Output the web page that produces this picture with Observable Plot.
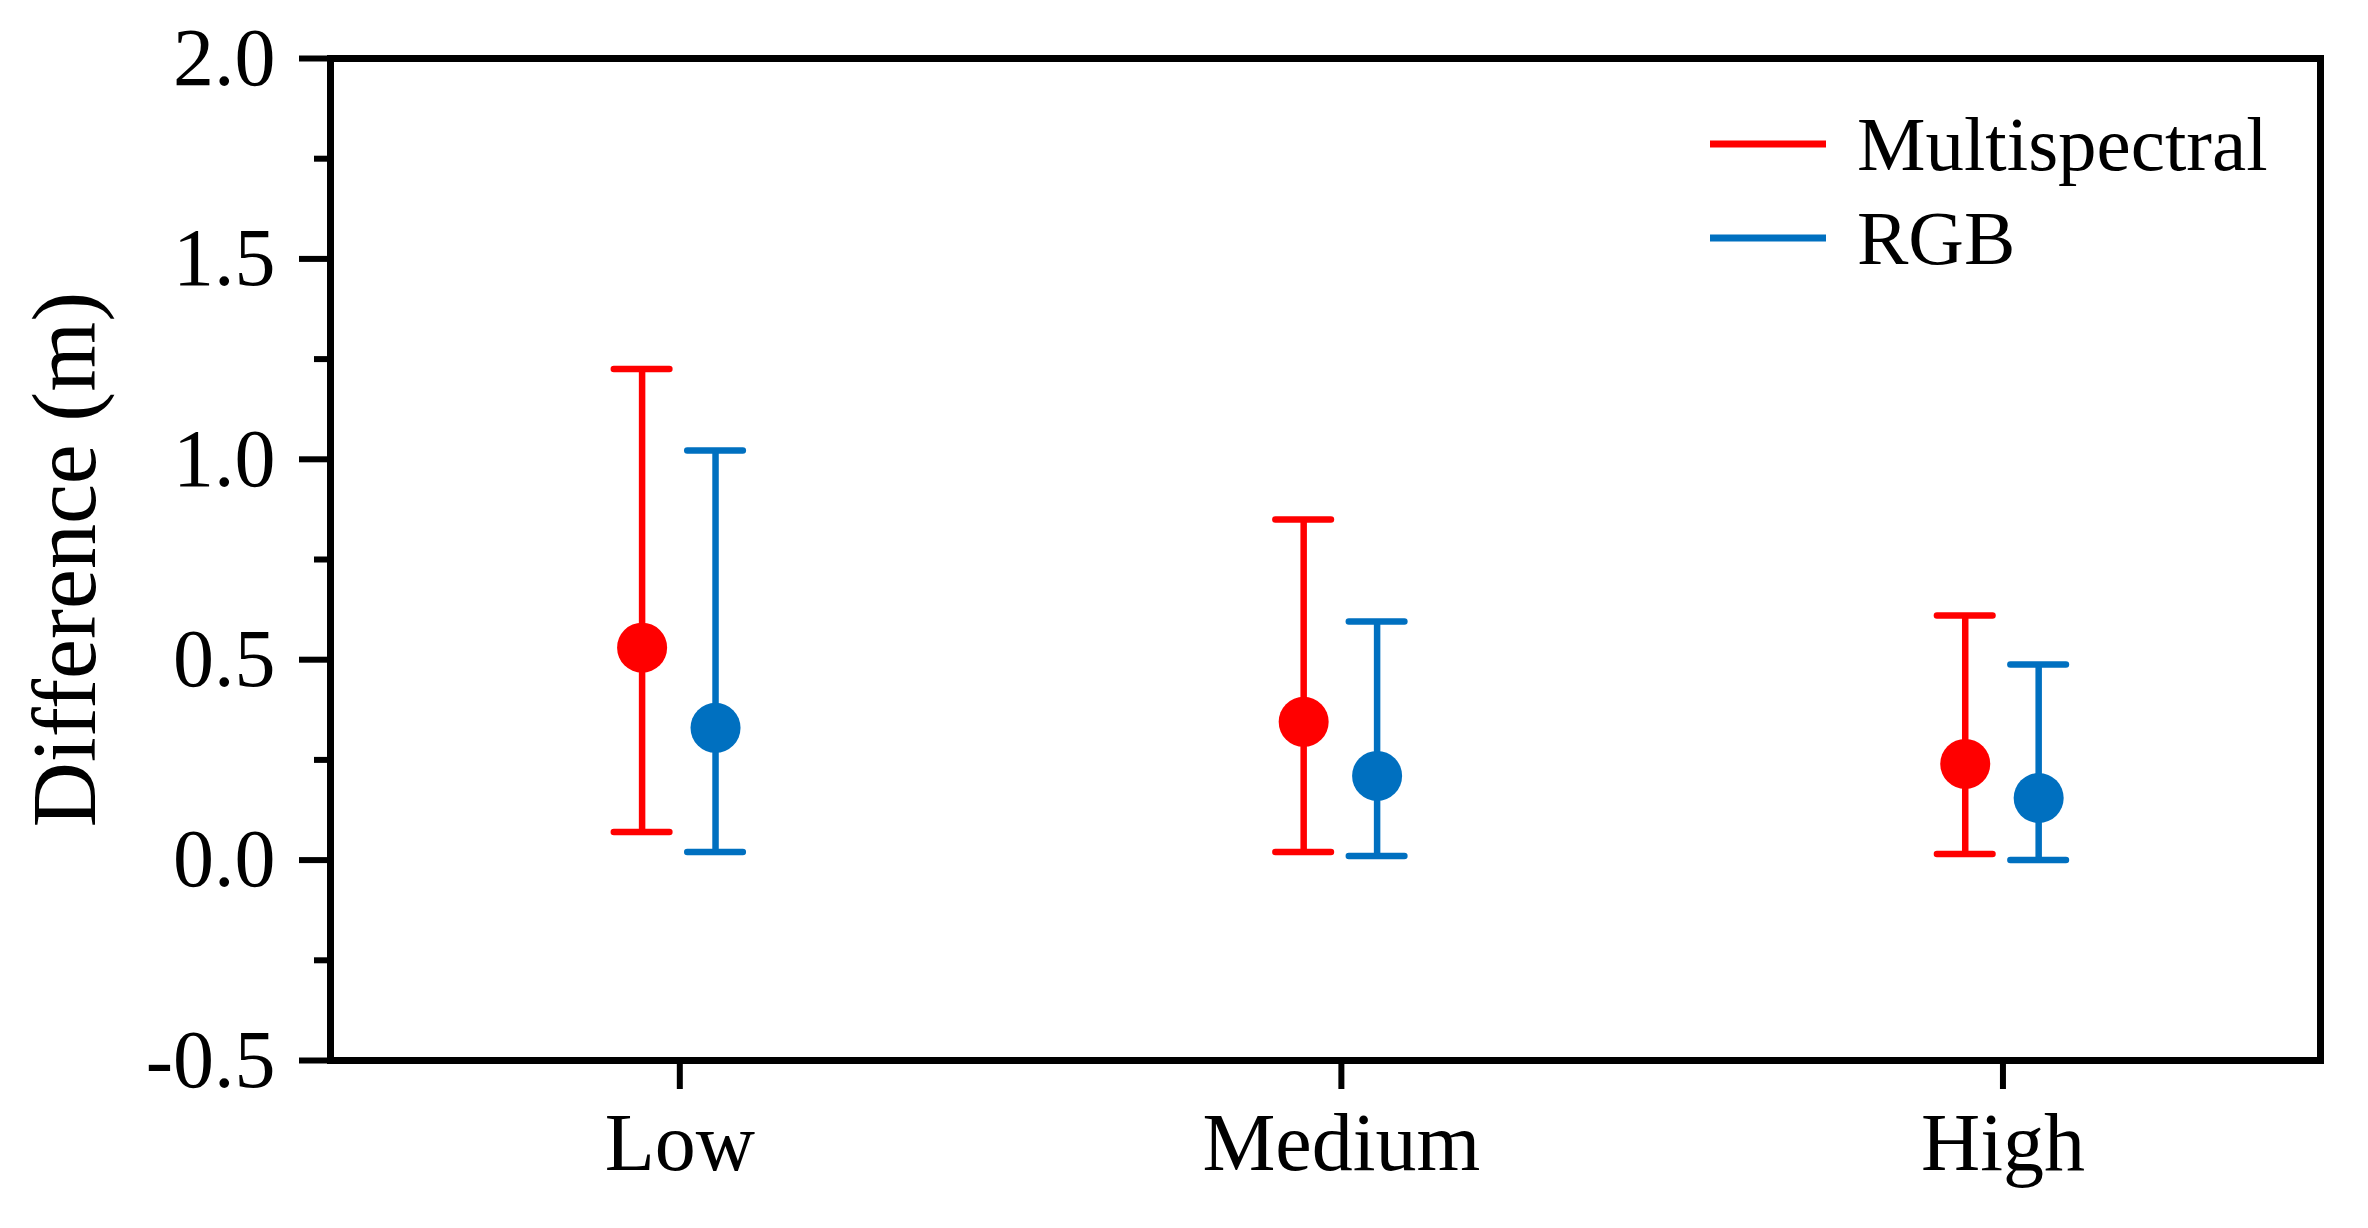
<!DOCTYPE html>
<html>
<head>
<meta charset="utf-8">
<script src="https://cdn.jsdelivr.net/npm/d3@7"></script>
<script src="https://cdn.jsdelivr.net/npm/@observablehq/plot@0.6"></script>
<style>
  html, body { margin: 0; padding: 0; background: #fff; }
  #chart { width: 2368px; height: 1228px; }
</style>
</head>
<body>
<div id="chart"></div>
<script>
// ---- data ----
const categories = ["Low", "Medium", "High"];
const series = ["Multispectral", "RGB"];
const colors = ["#ff0000", "#0070c0"];
const multiMean  = [0.530, 0.345, 0.240];
const multiUpper = [1.225, 0.850, 0.610];
const multiLower = [0.070, 0.020, 0.015];
const rgbMean    = [0.330, 0.210, 0.155];
const rgbUpper   = [1.022, 0.595, 0.488];
const rgbLower   = [0.020, 0.010, 0.000];
const yMajorTicks = [-0.5, 0.0, 0.5, 1.0, 1.5, 2.0];
const yMinorTicks = [-0.25, 0.25, 0.75, 1.25, 1.75];
const yLabel = "Difference (m)";

// dodge offsets (category units) for the two series
const dodge = [-0.057, 0.054];
const capHalf = 0.042;

const rows = [];
categories.forEach((c, i) => {
  rows.push({cat: c, series: series[0], x: i + 1 + dodge[0], mean: multiMean[i], upper: multiUpper[i], lower: multiLower[i], color: colors[0]});
  rows.push({cat: c, series: series[1], x: i + 1 + dodge[1], mean: rgbMean[i], upper: rgbUpper[i], lower: rgbLower[i], color: colors[1]});
});

const font = '"Liberation Serif", "Times New Roman", Times, serif';

const plot = Plot.plot({
  width: 2368,
  height: 1228,
  marginLeft: 330,
  marginRight: 48,
  marginTop: 58,
  marginBottom: 168,
  style: {fontFamily: font, fontSize: "82px", background: "#fff", color: "#000"},
  x: {type: "linear", domain: [0.472, 3.48]},
  y: {type: "linear", domain: [-0.5, 2.0]},
  marks: [
    Plot.axisY({ticks: yMinorTicks, tickSize: 16, strokeWidth: 6, tickFormat: () => "", label: null}),
    Plot.axisY({ticks: yMajorTicks, tickSize: 31, tickPadding: 24, strokeWidth: 6, fontSize: 82,
                tickFormat: d => d.toFixed(1), label: null}),
    Plot.axisX({ticks: [1, 2, 3], tickSize: 29, tickPadding: 22, strokeWidth: 6, fontSize: 82,
                tickFormat: d => categories[d - 1], label: null}),
    Plot.text([yLabel], {frameAnchor: "left", dx: -264, rotate: -90, textAnchor: "middle", lineAnchor: "middle", fontSize: 90, fill: "#000"}),
    Plot.ruleX(rows, {x: "x", y1: "lower", y2: "upper", stroke: "color", strokeWidth: 6.5}),
    Plot.ruleY(rows, {y: "upper", x1: d => d.x - capHalf, x2: d => d.x + capHalf, stroke: "color", strokeWidth: 6.5, strokeLinecap: "round"}),
    Plot.ruleY(rows, {y: "lower", x1: d => d.x - capHalf, x2: d => d.x + capHalf, stroke: "color", strokeWidth: 6.5, strokeLinecap: "round"}),
    Plot.dot(rows, {x: "x", y: "mean", r: 25, fill: "color", stroke: "none"}),
    Plot.frame({stroke: "#000", strokeWidth: 7})
  ]
});

document.getElementById("chart").appendChild(plot);

// legend drawn inside the plot area
const svg = d3.select(plot);
const leg = svg.append("g").attr("font-family", font).attr("font-size", 77).attr("text-anchor", "start");
series.forEach((s, i) => {
  const cy = 144 + i * 94;
  leg.append("line")
    .attr("x1", 1710).attr("x2", 1826)
    .attr("y1", cy).attr("y2", cy)
    .attr("stroke", colors[i]).attr("stroke-width", 7);
  leg.append("text")
    .attr("x", 1857).attr("y", cy + 26)
    .attr("text-anchor", "start")
    .attr("fill", "#000")
    .text(s);
});
</script>
</body>
</html>
